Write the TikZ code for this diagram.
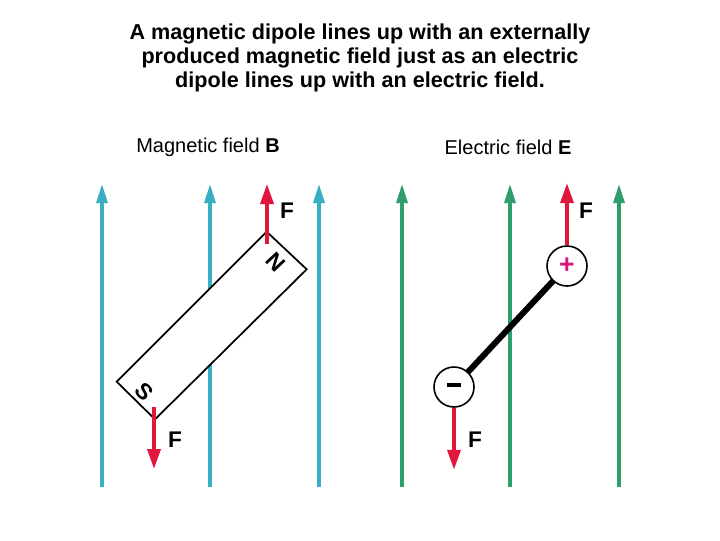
\documentclass[tikz,border=0pt]{standalone}
\usepackage{fontspec}
\setmainfont{Liberation Sans}
\usetikzlibrary{arrows.meta}
\definecolor{bl}{HTML}{3AAFC4}
\definecolor{gr}{HTML}{2E9E6B}
\definecolor{rd}{HTML}{E0163C}
\definecolor{mg}{HTML}{D6187D}
\begin{document}
\begin{tikzpicture}[x=0.75pt,y=-0.75pt,
 fld/.style={line width=3.2pt*0.75,-{Triangle[length=19pt*0.75,width=11pt*0.75]}},
 frc/.style={rd,line width=3.5pt*0.75,-{Triangle[length=20pt*0.75,width=13pt*0.75]}},
 lab/.style={font=\fontsize{17}{17}\selectfont\bfseries},
 chg/.style={circle,draw,line width=1.2pt,fill=white,minimum size=30pt,inner sep=0pt}]
\useasboundingbox (0,0) rectangle (720,540);
\node[font=\fontsize{16.2}{18}\selectfont\bfseries,align=center] (t) at (360,58)
 {A magnetic dipole lines up with an externally\\produced magnetic field just as an electric\\dipole lines up with an electric field.};
\node[font=\fontsize{15}{15}\selectfont] (mb) at (208,147) {Magnetic field \textbf{B}};
\node[font=\fontsize{15}{15}\selectfont] (ee) at (508,147) {Electric field \textbf{E}};
% magnetic side
\foreach \x/\n in {102/a,210/b,319/c}{
 \coordinate (b\n0) at (\x,487); \coordinate (b\n1) at (\x,184);
 \draw[fld,bl] (b\n0) -- (b\n1);}
\coordinate (m1) at (266.7,231.7); \coordinate (m2) at (306.7,269.3);
\coordinate (m3) at (155,419.3); \coordinate (m4) at (116.7,381.7);
\draw[line width=1.3pt,fill=white] (m1) -- (m2) -- (m3) -- (m4) -- cycle;
\node[lab,rotate=-47] (N) at (276,262) {N};
\node[lab,rotate=-47] (S) at (144,392) {S};
\coordinate (fn0) at (267,244); \coordinate (fn1) at (267,184);
\draw[frc] (fn0) -- (fn1);
\coordinate (fs0) at (154,407); \coordinate (fs1) at (154,469);
\draw[frc] (fs0) -- (fs1);
\node[lab] (F1) at (287,211) {F};
\node[lab] (F2) at (175,440) {F};
% electric side
\foreach \x/\n in {402/a,510/b,619/c}{
 \coordinate (g\n0) at (\x,487); \coordinate (g\n1) at (\x,184);
 \draw[fld,gr] (g\n0) -- (g\n1);}
\coordinate (pc) at (567,266); \coordinate (mc) at (454,387);
\draw[line width=6pt*0.75] (pc) -- (mc);
\node[chg] (p) at (pc) {};
\node[chg] (m) at (mc) {};
\node[mg,font=\fontsize{20}{20}\selectfont\bfseries] at (p) {+};
\node[font=\fontsize{17}{17}\selectfont\bfseries] at (m) {\rule[0.3ex]{0.6em}{2.6pt}};
\draw[frc] (p.north) -- ++(0,-62);
\draw[frc] (m.south) -- ++(0,62);
\node[lab] (F3) at (586,211) {F};
\node[lab] (F4) at (475,440) {F};
\end{tikzpicture}
\end{document}
